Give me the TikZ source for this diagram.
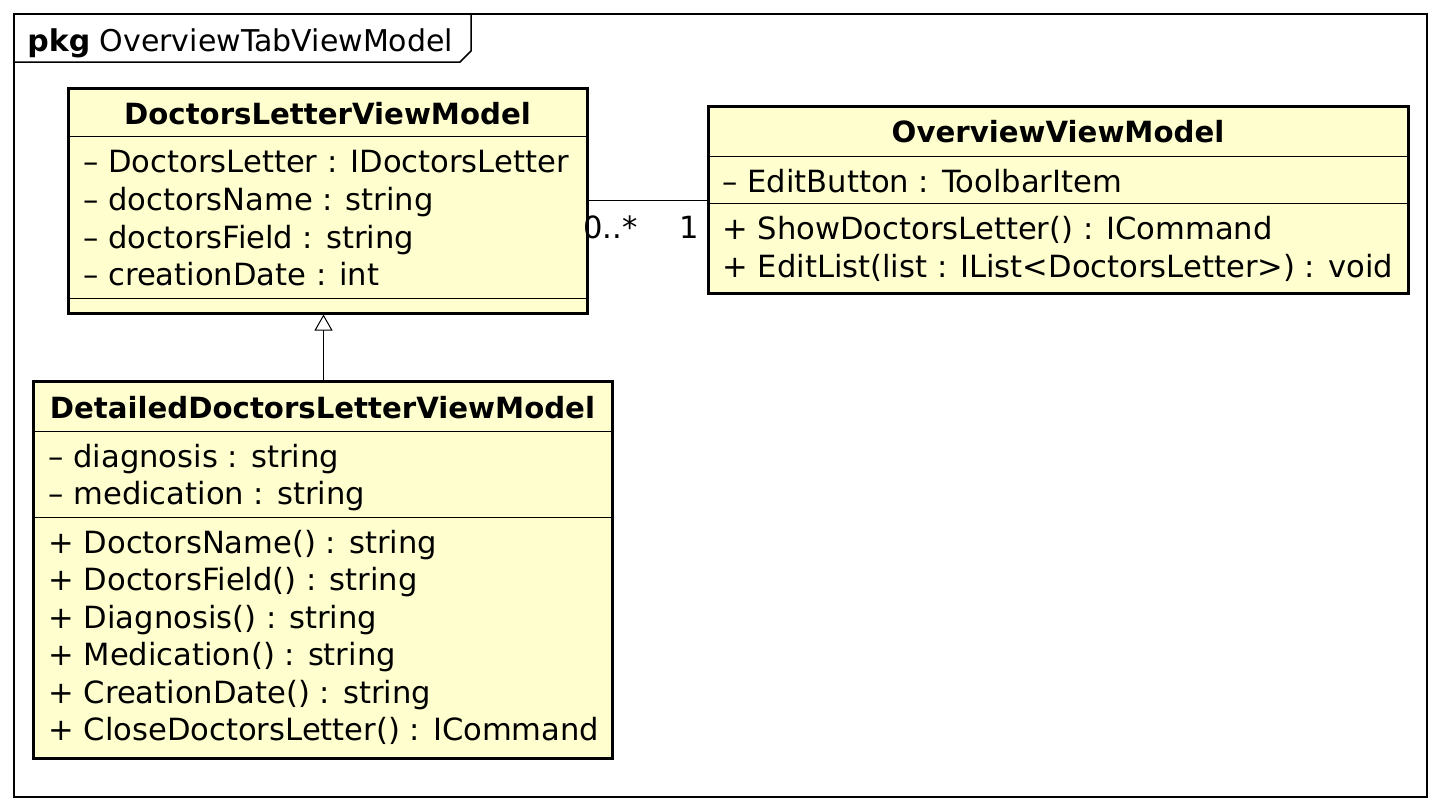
\documentclass[tikz,border=0pt]{standalone}
\usepackage{fontspec}
\setmainfont{DejaVu Sans}
\usetikzlibrary{arrows.meta}
\definecolor{classfill}{HTML}{FEFECE}
\tikzset{
  classbox/.style={rectangle, draw, line width=1.5pt, fill=classfill, inner sep=0pt},
  member/.style={anchor=base west, inner sep=0pt, font=\fontsize{15.3}{18}\selectfont},
  classname/.style={anchor=base, inner sep=0pt, font=\fontsize{14.6}{18}\selectfont\bfseries},
  sepline/.style={line width=0.5pt},
}
\begin{document}
\begin{tikzpicture}[x=0.5pt, y=-0.5pt]
  \useasboundingbox (0,0) rectangle (1440,810);
  % Package frame
  \node (pkg) [rectangle, draw, line width=0.75pt, minimum width=706.5pt, minimum height=391.5pt, inner sep=0pt] at (720.5,405.5) {};
  \draw[line width=0.75pt] (pkg.west |- 0,62) -- (460,62) -- (471,51) -- (pkg.north -| 471,0);
  \node (pkgname) [member, font=\fontsize{15}{18}\selectfont] at (27,51) {\textbf{pkg} OverviewTabViewModel};
  % Nodes
  \node (dlvm) [classbox, minimum width=259.5pt, minimum height=112.5pt] at (327.5,200.5) {};
  \node (ovm) [classbox, minimum width=350pt, minimum height=93.5pt] at (1058,199.5) {};
  \node (ddlvm) [classbox, minimum width=289.5pt, minimum height=188.5pt] at (322.5,569.5) {};
  % Compartments
  \draw[sepline] (dlvm.west |- 0,136) -- (dlvm.east |- 0,136);
  \draw[sepline] (dlvm.west |- 0,298) -- (dlvm.east |- 0,298);
  \draw[sepline] (ovm.west |- 0,156) -- (ovm.east |- 0,156);
  \draw[sepline] (ovm.west |- 0,203) -- (ovm.east |- 0,203);
  \draw[sepline] (ddlvm.west |- 0,431) -- (ddlvm.east |- 0,431);
  \draw[sepline] (ddlvm.west |- 0,517) -- (ddlvm.east |- 0,517);
  % Texts
  \node (dlvmname) [classname] at (327.5,124) {DoctorsLetterViewModel};
  \node (dlvma1) [member] at (83,172) {– DoctorsLetter : IDoctorsLetter};
  \node (dlvma2) [member] at (83,210) {– doctorsName : string};
  \node (dlvma3) [member] at (83,248) {– doctorsField : string};
  \node (dlvma4) [member] at (83,285) {– creationDate : int};
  \node (ovmname) [classname] at (1058,142) {OverviewViewModel};
  \node (ovma1) [member] at (722,192) {– EditButton : ToolbarItem};
  \node (ovmm1) [member] at (722,239) {+ ShowDoctorsLetter() : ICommand};
  \node (ovmm2) [member] at (722,277) {+ EditList(list : IList<DoctorsLetter>) : void};
  \node (ddlvmname) [classname] at (322.5,418) {DetailedDoctorsLetterViewModel};
  \node (ddlvma1) [member] at (48,467) {– diagnosis : string};
  \node (ddlvma2) [member] at (48,504) {– medication : string};
  \node (ddlvmm1) [member] at (48,553) {+ DoctorsName() : string};
  \node (ddlvmm2) [member] at (48,590) {+ DoctorsField() : string};
  \node (ddlvmm3) [member] at (48,628) {+ Diagnosis() : string};
  \node (ddlvmm4) [member] at (48,665) {+ Medication() : string};
  \node (ddlvmm5) [member] at (48,703) {+ CreationDate() : string};
  \node (ddlvmm6) [member] at (48,740) {+ CloseDoctorsLetter() : ICommand};
  % Arrow
  \draw[line width=0.5pt] (dlvm.east |- 0,200) -- (ovm.west |- 0,200);
  \node (mult0) [member] at (583,238) {0..*};
  \node (mult1) [member] at (679,238) {1};
  \draw[line width=0.5pt, -{Triangle[open, length=8pt, width=9pt, fill=white]}] (ddlvm.north -| 323.5,0) -- (dlvm.south -| 323.5,0);
\end{tikzpicture}
\end{document}
